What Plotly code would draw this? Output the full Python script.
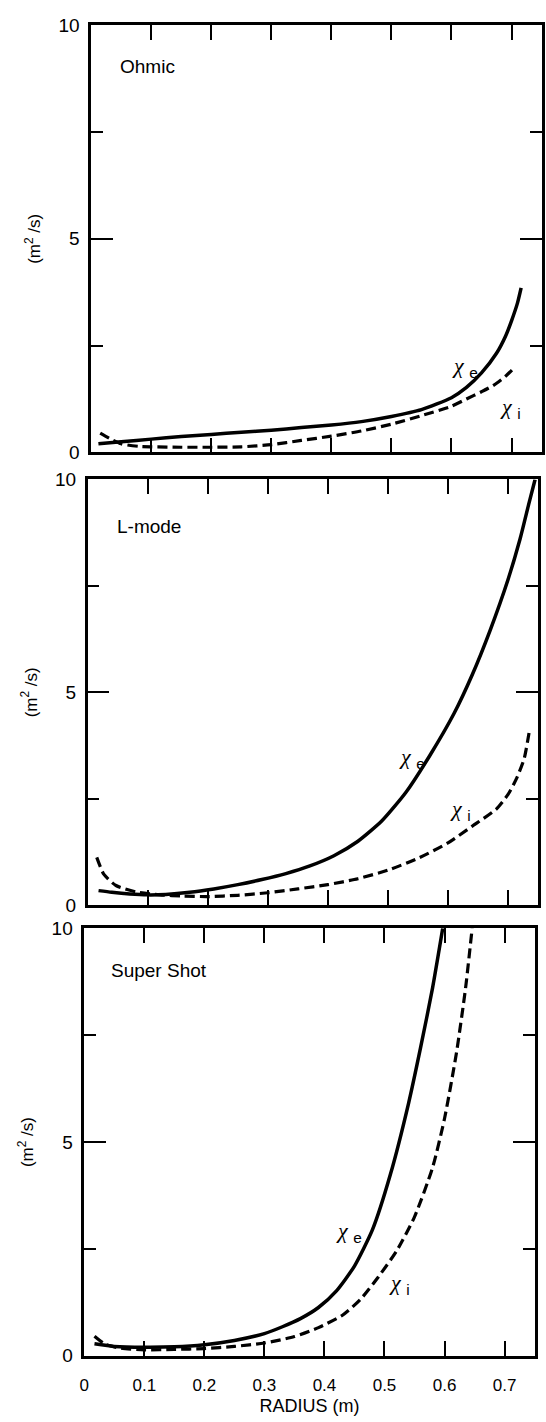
import plotly.graph_objects as go

# ---- chi_e / chi_i radial profiles (m^2/s) for three TFTR regimes ----
ohmic_r_e = [0.012, 0.05, 0.1, 0.15, 0.2, 0.25, 0.3, 0.35, 0.4, 0.45, 0.5, 0.55,
             0.6, 0.625, 0.65, 0.675, 0.69, 0.70, 0.71, 0.716]
ohmic_chi_e = [0.2, 0.25, 0.31, 0.37, 0.42, 0.47, 0.52, 0.58, 0.64, 0.72, 0.84, 1.0,
               1.28, 1.52, 1.86, 2.32, 2.72, 3.08, 3.5, 3.85]
ohmic_r_i = [0.015, 0.03, 0.05, 0.08, 0.1, 0.15, 0.2, 0.25, 0.3, 0.35, 0.4, 0.45,
             0.5, 0.55, 0.6, 0.625, 0.65, 0.67, 0.69, 0.706]
ohmic_chi_i = [0.45, 0.33, 0.2, 0.14, 0.13, 0.12, 0.12, 0.13, 0.18, 0.28, 0.38, 0.5,
               0.66, 0.86, 1.08, 1.25, 1.42, 1.57, 1.78, 2.0]

lmode_r_e = [0.018, 0.04, 0.07, 0.1, 0.13, 0.17, 0.21, 0.25, 0.29, 0.33, 0.37, 0.41,
             0.45, 0.49, 0.53, 0.57, 0.61, 0.64, 0.67, 0.70, 0.72, 0.735, 0.745]
lmode_chi_e = [0.34, 0.3, 0.26, 0.24, 0.25, 0.3, 0.38, 0.48, 0.6, 0.74, 0.92, 1.16,
               1.5, 1.98, 2.65, 3.52, 4.5, 5.4, 6.45, 7.65, 8.6, 9.45, 10.0]
lmode_r_i = [0.015, 0.027, 0.047, 0.08, 0.12, 0.16, 0.2, 0.25, 0.3, 0.35, 0.4, 0.45,
             0.5, 0.55, 0.6, 0.64, 0.68, 0.70, 0.715, 0.727, 0.735]
lmode_chi_i = [1.12, 0.72, 0.46, 0.31, 0.24, 0.21, 0.2, 0.23, 0.29, 0.38, 0.48, 0.62,
               0.82, 1.1, 1.46, 1.85, 2.25, 2.6, 3.0, 3.45, 4.05]

super_r_e = [0.017, 0.05, 0.1, 0.15, 0.2, 0.25, 0.3, 0.33, 0.36, 0.39, 0.42, 0.45,
             0.48, 0.51, 0.54, 0.56, 0.58, 0.597]
super_chi_e = [0.28, 0.22, 0.2, 0.21, 0.26, 0.36, 0.52, 0.68, 0.87, 1.13, 1.52, 2.1,
               2.95, 4.25, 5.9, 7.2, 8.6, 10.0]
super_r_i = [0.017, 0.035, 0.06, 0.1, 0.15, 0.2, 0.25, 0.3, 0.35, 0.39, 0.43, 0.46,
             0.49, 0.52, 0.55, 0.58, 0.6, 0.62, 0.635, 0.646]
super_chi_i = [0.46, 0.27, 0.18, 0.14, 0.15, 0.17, 0.22, 0.3, 0.45, 0.66, 0.95, 1.32,
               1.85, 2.45, 3.25, 4.4, 5.55, 7.1, 8.6, 10.0]

panel_names = ["Ohmic", "L-mode", "Super Shot"]
x_tick_vals = [0, 0.1, 0.2, 0.3, 0.4, 0.5, 0.6, 0.7]
x_tick_text = ["0", "0.1", "0.2", "0.3", "0.4", "0.5", "0.6", "0.7"]
y_tick_vals = [0, 5, 10]
y_tick_text = ["0", "5", "10"]

# label anchor points (r, chi) for each panel: chi_e, chi_i, panel name
chi_e_label_pos = [(0.622, 2.0), (0.540, 3.46), (0.441, 2.9)]
chi_i_label_pos = [(0.698, 1.04), (0.621, 2.23), (0.525, 1.68)]
name_label_pos = [(0.045, 9.03), (0.045, 8.9), (0.042, 9.0)]

W, H = 546, 1422
FONT = "Liberation Sans, Arial, Helvetica, sans-serif"
GREEK = "Liberation Serif, Times New Roman, serif"

# panel frames in pixels: (left, right, top, bottom)
frames = [(87, 541.5, 15.5, 449), (83.5, 538, 476.5, 908.5), (80, 534.5, 932, 1366)]

profiles = [
    (ohmic_r_e, ohmic_chi_e, ohmic_r_i, ohmic_chi_i),
    (lmode_r_e, lmode_chi_e, lmode_r_i, lmode_chi_i),
    (super_r_e, super_chi_e, super_r_i, super_chi_i),
]

fig = go.Figure()
annotations = []

for k, (re_, ce, ri, ci) in enumerate(profiles):
    sfx = "" if k == 0 else str(k + 1)
    xa, ya = "x" + sfx, "y" + sfx
    fig.add_trace(go.Scatter(x=re_, y=ce, mode="lines", xaxis=xa, yaxis=ya,
                             line=dict(color="black", width=3.5, shape="spline", smoothing=0.6),
                             showlegend=False, hoverinfo="skip"))
    fig.add_trace(go.Scatter(x=ri, y=ci, mode="lines", xaxis=xa, yaxis=ya,
                             line=dict(color="black", width=3.2, dash="10px,5px",
                                       shape="spline", smoothing=0.6),
                             showlegend=False, hoverinfo="skip"))

    left, right, top, bottom = frames[k]
    last = k == 2
    fig.layout["xaxis" + sfx] = dict(
        domain=[left / W, right / W], anchor=ya, range=[0, 0.75],
        showline=True, linecolor="black", linewidth=2.5, mirror="ticks",
        ticks="inside", ticklen=15, tickwidth=2, tickcolor="black",
        tickvals=x_tick_vals, ticktext=x_tick_text, showticklabels=last,
        ticklabelstandoff=12,
        tickfont=dict(family=FONT, size=17, color="black"),
        showgrid=False, zeroline=False, fixedrange=True,
        title=dict(text="RADIUS (m)" if last else "",
                   font=dict(family=FONT, size=18, color="black"), standoff=6),
    )
    fig.layout["yaxis" + sfx] = dict(
        domain=[1 - bottom / H, 1 - top / H], anchor=xa, range=[0, 10],
        showline=True, linecolor="black", linewidth=2.5, mirror="ticks",
        ticks="inside", ticklen=22, tickwidth=2, tickcolor="black",
        tickvals=y_tick_vals, ticktext=y_tick_text, ticklabelstandoff=5,
        minor=dict(dtick=2.5, tick0=0, ticks="inside", ticklen=12, tickwidth=2,
                   tickcolor="black"),
        tickfont=dict(family=FONT, size=19, color="black"),
        showgrid=False, zeroline=False, fixedrange=True,
        title=dict(text="(m<sup>2</sup> /s)", standoff=14,
                   font=dict(family=FONT, size=17, color="black")),
    )

    ex, ey = chi_e_label_pos[k]
    ix, iy = chi_i_label_pos[k]
    nx, ny = name_label_pos[k]
    annotations += [
        dict(x=ex, y=ey, xref=xa, yref=ya, showarrow=False,
             text="<i>χ</i> <span style='font-family:Liberation Sans'><sub>e</sub></span>",
             font=dict(family=GREEK, size=22, color="black")),
        dict(x=ix, y=iy, xref=xa, yref=ya, showarrow=False,
             text="<i>χ</i> <span style='font-family:Liberation Sans'><sub>i</sub></span>",
             font=dict(family=GREEK, size=22, color="black")),
        dict(x=nx, y=ny, xref=xa, yref=ya, text=panel_names[k], showarrow=False,
             xanchor="left", font=dict(family=FONT, size=19, color="black")),
    ]

fig.update_layout(
    width=W, height=H,
    margin=dict(l=0, r=0, t=0, b=0),
    paper_bgcolor="white", plot_bgcolor="white",
    annotations=annotations,
    showlegend=False,
)

fig.write_html("out.html")
